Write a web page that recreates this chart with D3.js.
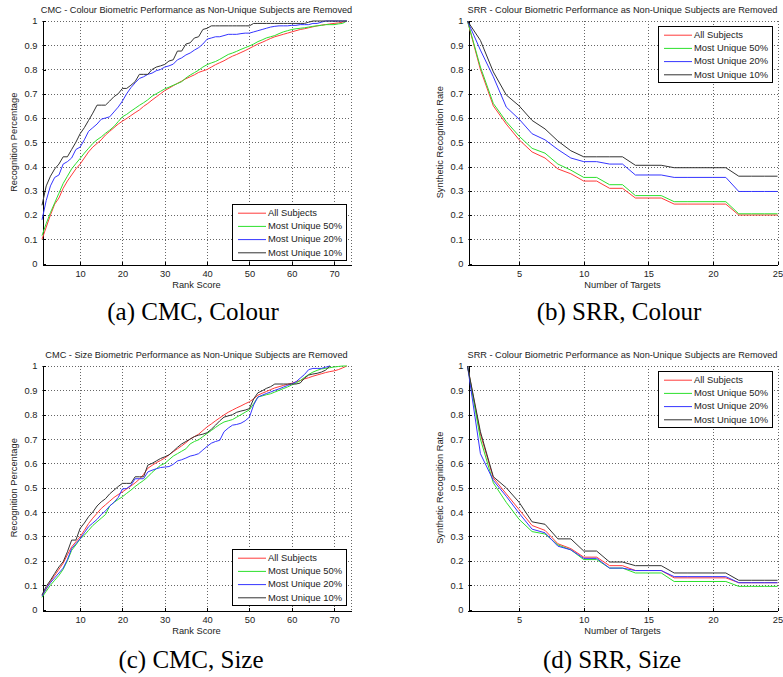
<!DOCTYPE html>
<html>
<head>
<meta charset="utf-8">
<script src="https://cdn.jsdelivr.net/npm/d3@7/dist/d3.min.js"></script>
<style>
  body { margin: 0; background: #fff; }
  svg text { font-family: "Liberation Sans", Arial, sans-serif; fill: #222; }
  svg text.caption { font-family: "Liberation Serif", "Times New Roman", serif; fill: #000; }
</style>
</head>
<body>
<svg id="chart" width="783" height="677"></svg>
<script>
// ---- Data ----
const seriesNames = ['All Subjects', 'Most Unique 50%', 'Most Unique 20%', 'Most Unique 10%'];
const seriesColors = ['#ff3a3a', '#2de02d', '#3535ff', '#333333'];

const cmcRanks = d3.range(1, 74);      // rank score 1..73
const srrTargets = d3.range(1, 26);    // number of targets 1..25

const yTicks = [0, 0.1, 0.2, 0.3, 0.4, 0.5, 0.6, 0.7, 0.8, 0.9, 1];
const cmcTicksX = [10, 20, 30, 40, 50, 60, 70];
const srrTicksX = [5, 10, 15, 20, 25];

// CMC - Colour
const cmcColourAll = [.10, .15, .20, .245, .27, .31, .34, .365, .39, .41,
  .435, .46, .48, .495, .51, .53, .545, .56, .575, .587,
  .598, .61, .622, .633, .648, .66, .674, .687, .70, .713,
  .723, .733, .743, .752, .762, .77, .778, .788, .794, .80,
  .81, .82, .828, .836, .846, .855, .862, .87, .878, .887,
  .896, .905, .912, .92, .928, .935, .94, .945, .95, .955,
  .96, .965, .968, .972, .976, .98, .983, .985, .988, .99,
  .992, .995, 1.0];
const cmcColour50 = [.115, .165, .21, .25, .29, .33, .36, .39, .412, .433,
  .455, .475, .495, .51, .522, .537, .55, .565, .585, .605,
  .615, .628, .64, .652, .663, .675, .69, .70, .71, .72,
  .727, .735, .742, .75, .765, .777, .787, .797, .81, .82,
  .827, .833, .842, .852, .862, .868, .875, .883, .89, .897,
  .905, .915, .922, .93, .935, .94, .948, .955, .96, .965,
  .968, .97, .972, .975, .978, .98, .982, .985, .985, .985,
  .988, .99, 1.0];
const cmcColour20 = [.18, .26, .32, .355, .365, .41, .42, .435, .47, .48,
  .51, .545, .56, .575, .595, .60, .605, .625, .645, .67,
  .70, .725, .745, .763, .77, .78, .785, .795, .80, .81,
  .815, .822, .84, .848, .86, .868, .88, .89, .905, .925,
  .93, .935, .935, .94, .945, .945, .945, .948, .95, .95,
  .955, .96, .965, .97, .975, .978, .98, .98, .98, .982,
  .982, .985, .985, .985, .99, .99, .995, 1.0, 1.0, 1.0,
  1.0, 1.0, 1.0];
const cmcColour10 = [.24, .32, .36, .39, .41, .44, .44, .47, .50, .535,
  .56, .59, .62, .653, .653, .653, .67, .688, .70, .722,
  .722, .735, .75, .78, .78, .78, .80, .81, .815, .821,
  .835, .84, .876, .876, .905, .91, .93, .935, .965, .97,
  .98, .98, .98, .98, .98, .98, .98, .98, .98, .98,
  .99, .99, .99, .99, .99, .99, .99, .99, .99, .99,
  .99, .99, .99, .995, 1.0, 1.0, 1.0, 1.0, 1.0, 1.0,
  1.0, 1.0, 1.0];

// SRR - Colour
const srrColourAll = [1.0, .80, .65, .575, .51, .46, .435, .39, .37, .34, .34, .31, .31,
  .27, .27, .27, .245, .245, .245, .245, .245, .20, .20, .20, .20];
const srrColour50 = [1.0, .81, .66, .585, .525, .475, .455, .41, .385, .355, .355, .325, .325,
  .28, .28, .28, .255, .255, .255, .255, .255, .205, .205, .205, .205];
const srrColour20 = [1.0, .88, .77, .645, .595, .535, .51, .47, .435, .42, .42, .41, .41,
  .365, .365, .365, .355, .355, .355, .355, .355, .297, .297, .297, .297];
const srrColour10 = [1.0, .92, .79, .695, .65, .59, .555, .505, .465, .44, .44, .44, .44,
  .405, .405, .405, .395, .395, .395, .395, .395, .36, .36, .36, .36];

// CMC - Size
const cmcSizeAll = [.055, .085, .115, .14, .165, .19, .225, .257, .278, .298,
  .325, .353, .375, .395, .415, .43, .445, .46, .472, .483,
  .495, .507, .52, .535, .555, .58, .592, .603, .612, .622,
  .635, .648, .66, .672, .685, .70, .71, .72, .735, .75,
  .762, .775, .787, .799, .81, .819, .828, .836, .845, .853,
  .865, .88, .888, .895, .903, .91, .915, .92, .925, .929,
  .935, .94, .947, .952, .958, .963, .968, .973, .977, .98,
  .985, .992, 1.0];
const cmcSize50 = [.05, .075, .10, .12, .14, .165, .20, .243, .265, .29,
  .305, .325, .345, .36, .375, .39, .425, .44, .452, .463,
  .477, .49, .505, .518, .53, .545, .563, .578, .592, .60,
  .615, .63, .64, .65, .66, .68, .69, .697, .71, .723,
  .735, .748, .76, .77, .775, .78, .79, .80, .81, .82,
  .845, .873, .877, .882, .886, .893, .90, .907, .914, .922,
  .93, .94, .953, .965, .975, .982, .988, .99, .993, .996,
  .998, 1.0, 1.0];
const cmcSize20 = [.055, .085, .11, .13, .15, .17, .205, .25, .27, .29,
  .315, .34, .355, .37, .39, .405, .425, .44, .46, .495,
  .497, .51, .537, .537, .537, .565, .572, .578, .583, .585,
  .587, .596, .61, .615, .622, .63, .634, .64, .655, .67,
  .683, .69, .695, .73, .745, .757, .76, .765, .775, .79,
  .84, .872, .88, .887, .893, .90, .906, .913, .92, .927,
  .935, .95, .965, .985, .99, .99, .99, .995, 1.0];
const cmcSize10 = [.06, .095, .12, .148, .175, .196, .237, .285, .285, .333,
  .355, .381, .40, .425, .442, .455, .475, .49, .505, .518,
  .518, .518, .545, .545, .545, .593, .60, .61, .62, .627,
  .635, .65, .666, .68, .69, .70, .71, .716, .72, .726,
  .74, .757, .775, .79, .795, .80, .81, .815, .819, .825,
  .865, .89, .898, .908, .915, .926, .926, .926, .926, .926,
  .926, .93, .95, .963, .967, .97, .975, .983, 1.0];

// SRR - Size
const srrSizeAll = [1.0, .72, .54, .475, .41, .345, .325, .27, .25, .215, .215, .18, .18,
  .16, .16, .16, .13, .13, .13, .13, .13, .11, .11, .11, .11];
const srrSize50 = [1.0, .70, .52, .44, .37, .32, .31, .265, .245, .205, .205, .17, .17,
  .15, .15, .15, .115, .115, .115, .115, .115, .095, .095, .095, .095];
const srrSize20 = [1.0, .64, .53, .465, .395, .33, .315, .26, .245, .21, .21, .17, .17,
  .16, .16, .16, .135, .135, .135, .135, .135, .11, .11, .11, .11];
const srrSize10 = [1.0, .73, .545, .50, .44, .36, .35, .29, .29, .24, .24, .195, .195,
  .18, .18, .18, .15, .15, .15, .15, .15, .12, .12, .12, .12];

// ---- Layout of the four sub-figures ----
const panels = [
  {
    title: 'CMC - Colour Biometric Performance as Non-Unique Subjects are Removed',
    xLabel: 'Rank Score', yLabel: 'Recognition Percentage',
    caption: '(a)  CMC, Colour',
    box: { left: 42, right: 351, top: 21, bottom: 263.5 },
    xDomain: [1, 74], xTicks: cmcTicksX, xs: cmcRanks,
    series: [cmcColourAll, cmcColour50, cmcColour20, cmcColour10],
    legend: { x: 232, y: 204 },
    captionPos: { x: 193, y: 320 }
  },
  {
    title: 'SRR - Colour Biometric Performance as Non-Unique Subjects are Removed',
    xLabel: 'Number of Targets', yLabel: 'Synthetic Recognition Rate',
    caption: '(b)  SRR, Colour',
    box: { left: 467.5, right: 777.5, top: 21, bottom: 263.5 },
    xDomain: [1, 25], xTicks: srrTicksX, xs: srrTargets,
    series: [srrColourAll, srrColour50, srrColour20, srrColour10],
    legend: { x: 658, y: 26 },
    captionPos: { x: 619, y: 320 }
  },
  {
    title: 'CMC - Size Biometric Performance as Non-Unique Subjects are Removed',
    xLabel: 'Rank Score', yLabel: 'Recognition Percentage',
    caption: '(c)  CMC, Size',
    box: { left: 42, right: 351, top: 366, bottom: 609.5 },
    xDomain: [1, 74], xTicks: cmcTicksX, xs: cmcRanks,
    series: [cmcSizeAll, cmcSize50, cmcSize20, cmcSize10],
    legend: { x: 232, y: 549 },
    captionPos: { x: 191, y: 668 }
  },
  {
    title: 'SRR - Colour Biometric Performance as Non-Unique Subjects are Removed',
    xLabel: 'Number of Targets', yLabel: 'Synthetic Recognition Rate',
    caption: '(d)  SRR, Size',
    box: { left: 467.5, right: 777.5, top: 366, bottom: 609.5 },
    xDomain: [1, 25], xTicks: srrTicksX, xs: srrTargets,
    series: [srrSizeAll, srrSize50, srrSize20, srrSize10],
    legend: { x: 658, y: 371 },
    captionPos: { x: 612, y: 668 }
  }
];

const svg = d3.select('#chart');
svg.append('rect').attr('width', 783).attr('height', 677).attr('fill', '#fff');

const fmtY = d3.format('.1~f');

/**
 * Draw one MATLAB-style sub-plot
 */
function drawPanel(p) {
  const b = p.box;
  const x = d3.scaleLinear().domain(p.xDomain).range([b.left, b.right]);
  const y = d3.scaleLinear().domain([0, 1]).range([b.bottom, b.top]);
  const g = svg.append('g');

  // Dotted grid (plus dotted top/right border)
  const grid = g.append('g')
    .attr('stroke', '#666')
    .attr('stroke-dasharray', '1,2')
    .attr('shape-rendering', 'crispEdges');
  grid.selectAll('.gx')
    .data(p.xTicks.concat([p.xDomain[1]]))
    .join('line')
    .attr('x1', d => Math.round(x(d)) + 0.5).attr('x2', d => Math.round(x(d)) + 0.5)
    .attr('y1', b.top).attr('y2', b.bottom);
  grid.selectAll('.gy')
    .data(yTicks.filter(d => d > 0))
    .join('line')
    .attr('x1', b.left).attr('x2', b.right)
    .attr('y1', d => Math.round(y(d)) + 0.5).attr('y2', d => Math.round(y(d)) + 0.5);

  // Axes with inward ticks
  const xAxis = d3.axisBottom(x).tickValues(p.xTicks).tickSizeInner(-3).tickSizeOuter(0).tickPadding(6);
  const yAxis = d3.axisLeft(y).tickValues(yTicks).tickFormat(fmtY).tickSizeInner(-3).tickSizeOuter(0).tickPadding(5);

  const gx = g.append('g').attr('transform', `translate(0,${Math.round(b.bottom) + 0.5})`).call(xAxis);
  const gy = g.append('g').attr('transform', `translate(${Math.round(b.left) + 0.5},0)`).call(yAxis);
  [gx, gy].forEach(ax => {
    ax.selectAll('path, line').attr('stroke', '#000').attr('shape-rendering', 'crispEdges');
    ax.selectAll('text').attr('font-size', '9.3px').attr('fill', '#222')
      .attr('font-family', '"Liberation Sans", Arial, sans-serif');
  });

  // Series lines (black drawn last, on top)
  const line = d3.line()
    .x((d, i) => x(p.xs[i]))
    .y(d => y(d));
  g.append('g').selectAll('path')
    .data(p.series)
    .join('path')
    .attr('d', line)
    .attr('fill', 'none')
    .attr('stroke', (d, i) => seriesColors[i])
    .attr('stroke-width', 1);

  // Title
  g.append('text')
    .attr('x', (b.left + b.right) / 2)
    .attr('y', b.top - 8)
    .attr('text-anchor', 'middle')
    .attr('font-size', '9.2px')
    .text(p.title);

  // Axis labels
  g.append('text')
    .attr('x', (b.left + b.right) / 2)
    .attr('y', b.bottom + 24)
    .attr('text-anchor', 'middle')
    .attr('font-size', '9.3px')
    .text(p.xLabel);

  g.append('text')
    .attr('transform', `translate(${b.left - 25},${(b.top + b.bottom) / 2}) rotate(-90)`)
    .attr('text-anchor', 'middle')
    .attr('font-size', '9.3px')
    .text(p.yLabel);

  // Legend
  const lg = g.append('g').attr('transform', `translate(${p.legend.x},${p.legend.y})`);
  lg.append('rect')
    .attr('x', 0.5).attr('y', 0.5)
    .attr('width', 114).attr('height', 56)
    .attr('fill', '#fff')
    .attr('stroke', '#000')
    .attr('shape-rendering', 'crispEdges');
  const items = lg.selectAll('.item')
    .data(seriesNames)
    .join('g')
    .attr('class', 'item')
    .attr('transform', (d, i) => `translate(0,${8.7 + i * 13.2})`);
  items.append('line')
    .attr('x1', 6).attr('x2', 34)
    .attr('y1', 0.5).attr('y2', 0.5)
    .attr('stroke', (d, i) => seriesColors[i]);
  items.append('text')
    .attr('x', 36)
    .attr('dy', '0.35em')
    .attr('font-size', '9.4px')
    .text(d => d);

  // Sub-figure caption
  svg.append('text')
    .attr('class', 'caption')
    .attr('x', p.captionPos.x)
    .attr('y', p.captionPos.y)
    .attr('text-anchor', 'middle')
    .attr('font-size', '25px')
    .text(p.caption);
}

panels.forEach(drawPanel);
</script>
</body>
</html>
